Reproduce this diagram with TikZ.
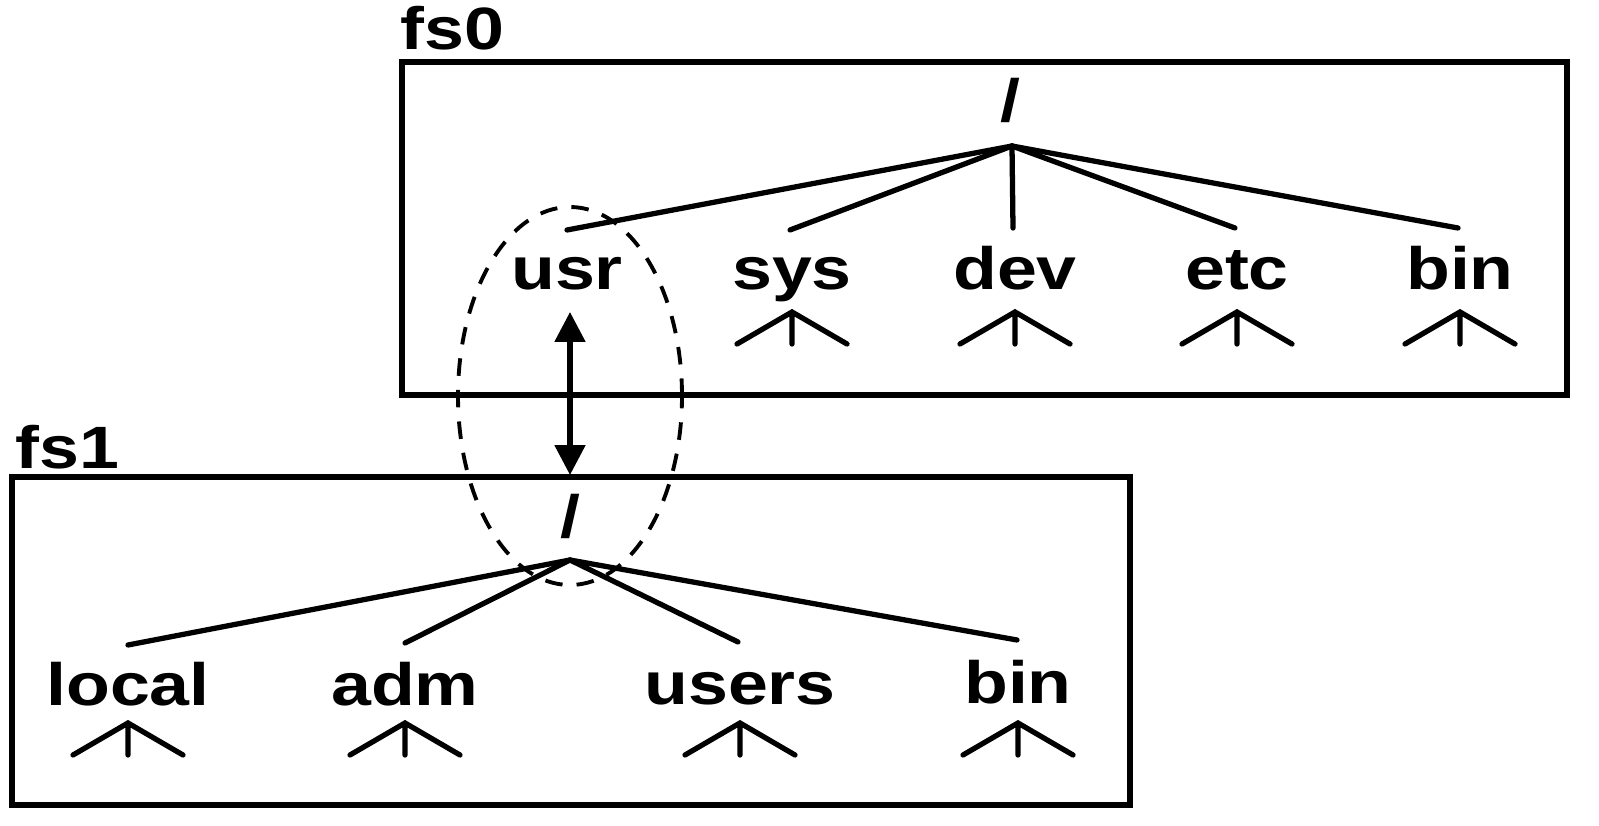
\documentclass[tikz,border=0pt]{standalone}
\usepackage{fontspec}
\newfontfamily\fsfont{Liberation Sans}[FakeStretch=1.2]
\usepackage{tikz}
\usetikzlibrary{
  arrows.meta,
  positioning
}

\begin{document}
\begin{tikzpicture}[
      dirname/.style={
         inner sep=0pt,
         anchor=base,
         font=\fsfont\bfseries\fontsize{17}{20}\selectfont
      },
      fstitle/.style={
         dirname,
         anchor=base west
      },
      fsbox/.style={
         draw,
         line width=1.5pt
      },
      branch/.style={line width=1.5pt, line cap=round},
      mount/.style={
         draw,
         dashed,
         dash pattern=on 5pt off 4pt,
         line width=1.1pt
      },
      subtree/.pic={
         \draw[branch] (-0.55,-0.32) -- (0,0) -- (0.55,-0.32) (0,0) -- (0,-0.32);
      },
      >={Triangle[length=3mm,width=3mm]}
    ]
    \useasboundingbox (0,0) rectangle (15.99,8.25);

    % file system fs0
    \node (fs0) [fstitle] at (4.00,7.75) {fs0};
    \draw[fsbox] (4.02,4.30) rectangle (15.67,7.63);
    \node (root0) [dirname] at (10.10,7.03) {/};
    \coordinate (apex0) at (10.12,6.79);
    \node (usr) [dirname] at (5.67,5.35) {usr};
    \node (sys) [dirname] at (7.92,5.35) {sys};
    \node (dev) [dirname] at (10.15,5.35) {dev};
    \node (etc) [dirname] at (12.37,5.35) {etc};
    \node (bin0) [dirname] at (14.60,5.35) {bin};
    \coordinate (usr top) at (5.67,5.95);
    \coordinate (sys top) at (7.90,5.95);
    \coordinate (dev top) at (10.13,5.97);
    \coordinate (etc top) at (12.35,5.97);
    \coordinate (bin0 top) at (14.58,5.97);
    \draw[branch] (apex0) -- (usr top);
    \draw[branch] (apex0) -- (sys top);
    \draw[branch] (apex0) -- (dev top);
    \draw[branch] (apex0) -- (etc top);
    \draw[branch] (apex0) -- (bin0 top);
    \pic at (7.92,5.13) {subtree};
    \pic at (10.15,5.13) {subtree};
    \pic at (12.37,5.13) {subtree};
    \pic at (14.60,5.13) {subtree};

    % file system fs1
    \node (fs1) [fstitle] at (0.15,3.57) {fs1};
    \draw[fsbox] (0.12,0.20) rectangle (11.30,3.48);
    \node (root1) [dirname] at (5.70,2.88) {/};
    \coordinate (apex1) at (5.70,2.65);
    \node (local) [dirname] at (1.28,1.20) {local};
    \node (adm) [dirname] at (4.05,1.20) {adm};
    \node (users) [dirname] at (7.40,1.21) {users};
    \node (bin1) [dirname] at (10.18,1.22) {bin};
    \coordinate (local top) at (1.28,1.80);
    \coordinate (adm top) at (4.05,1.82);
    \coordinate (users top) at (7.38,1.83);
    \coordinate (bin1 top) at (10.17,1.85);
    \draw[branch] (apex1) -- (local top);
    \draw[branch] (apex1) -- (adm top);
    \draw[branch] (apex1) -- (users top);
    \draw[branch] (apex1) -- (bin1 top);
    \pic at (1.28,1.02) {subtree};
    \pic at (4.05,1.02) {subtree};
    \pic at (7.40,1.02) {subtree};
    \pic at (10.18,1.02) {subtree};

    % mount point
    \coordinate (mount top) at (5.70,5.13);
    \coordinate (mount bottom) at (5.70,3.50);
    \draw[<->, line width=1.5pt] (mount top) -- (mount bottom);
    \draw[mount] (5.70,4.29) ellipse [x radius=1.12, y radius=1.89];
\end{tikzpicture}
\end{document}
